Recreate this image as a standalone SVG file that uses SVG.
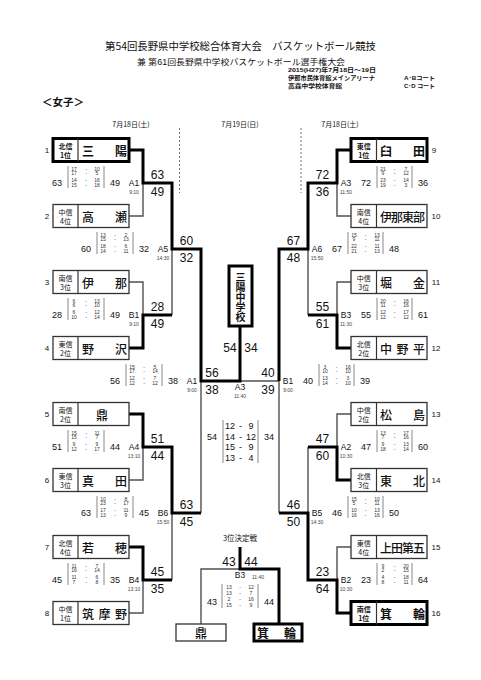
<svg xmlns="http://www.w3.org/2000/svg" width="481" height="680" viewBox="0 0 481 680">
<style>
text{font-family:"Liberation Sans","Noto Sans CJK JP",sans-serif;fill:#111;dominant-baseline:central}
.jp{font-family:"Noto Sans CJK JP",sans-serif}
.t{fill:none;stroke:#505050;stroke-width:1.4}
.k{fill:none;stroke:#000;stroke-width:3}
.bx{fill:#fff;stroke:#333;stroke-width:1.3}
.bk{fill:#fff;stroke:#000;stroke-width:3}
.dv{stroke:#333;stroke-width:1.2}
.dash{stroke:#777;stroke-width:1;stroke-dasharray:2 2}
.lb{font-family:"Noto Sans CJK JP",sans-serif;font-size:7px;text-anchor:middle}
.nm{font-family:"Noto Sans CJK JP",sans-serif;font-size:12px;font-weight:500}
.b{font-weight:bold}
.no{font-size:8px;text-anchor:middle}
.ls{font-size:12px;text-anchor:middle}
.ds{font-size:9px;text-anchor:middle}
.q{font-size:5px;text-anchor:middle;fill:#333}
.id{font-size:8.5px;text-anchor:middle}
.tm{font-size:5px;text-anchor:middle;fill:#444}
.bar{stroke:#888;stroke-width:1}
.sm{font-size:6px;font-weight:bold}
</style>

<g id="header">
<text class="jp" x="240.5" y="45" font-size="10.5" text-anchor="middle" textLength="271" lengthAdjust="spacingAndGlyphs">第54回長野県中学校総合体育大会　バスケットボール競技</text>
<text x="241" y="61.5" font-size="8.5" text-anchor="middle" textLength="208" lengthAdjust="spacingAndGlyphs">兼 第61回長野県中学校バスケットボール選手権大会</text>
<text class="sm" x="288" y="70.3" textLength="88" lengthAdjust="spacingAndGlyphs">2015(H27)年7月18日～19日</text>
<text class="sm" x="288" y="78.3" textLength="87" lengthAdjust="spacingAndGlyphs">伊那市民体育館メインアリーナ</text>
<text class="sm" x="404" y="78.3" textLength="31" lengthAdjust="spacingAndGlyphs">A･Bコート</text>
<text class="sm" x="288" y="86.3" textLength="54" lengthAdjust="spacingAndGlyphs">高森中学校体育館</text>
<text class="sm" x="404" y="86.3" textLength="31" lengthAdjust="spacingAndGlyphs">C･D コート</text>
<text class="jp" x="42" y="101" font-size="10.5" font-weight="bold">＜女子＞</text>
<text class="jp" x="131" y="124" font-size="7" text-anchor="middle">7月18日(土)</text>
<text class="jp" x="240" y="124" font-size="7" text-anchor="middle">7月19日(日)</text>
<text class="jp" x="340" y="124" font-size="7" text-anchor="middle">7月18日(土)</text>
</g>

<g id="connectors">
<line class="dash" x1="179.5" y1="128" x2="179.5" y2="193"/>
<line class="dash" x1="301" y1="128" x2="301" y2="193"/>
<path class="t" d="M129,216H143V183 M129,282H143V315 M129,480H143V447 M129,613H143V580 M172,315V249 M172,580V513 M201,513V381"/>
<path class="t" d="M351,216H337V183 M351,282H337V315 M351,414H337V447 M351,547H337V580 M308,315V249 M308,447V513 M279,513V381 M279,381H240"/>
<path class="t" d="M201,624V569H240"/>
<path class="k" d="M129,150H143V183H172V249H201V381H240V326"/>
<path class="k" d="M129,348H143V315H172"/>
<path class="k" d="M129,414H143V447H172V513H201"/>
<path class="k" d="M129,547H143V580H172"/>
<path class="k" d="M351,150H337V183H308V249H279V381"/>
<path class="k" d="M351,348H337V315H308"/>
<path class="k" d="M351,480H337V447H308"/>
<path class="k" d="M351,613H337V580H308V513H279"/>
<path class="k" d="M279,624V569H240V547"/>
</g>

<!-- Left teams -->
<g id="team1"><rect class="bk" x="53" y="138.5" width="76" height="23"/><line class="dv" x1="78" y1="138.5" x2="78" y2="161.5"/><text class="lb b" x="65.5" y="145.5">北信</text><text class="lb b" x="65.5" y="154.5">1位</text><text class="nm b" x="82 115" y="150">三陽</text><text class="no" x="47" y="150">1</text></g>
<g id="team2"><rect class="bx" x="53" y="204.5" width="76" height="23"/><line class="dv" x1="78" y1="204.5" x2="78" y2="227.5"/><text class="lb" x="65.5" y="211.5">中信</text><text class="lb" x="65.5" y="220.5">4位</text><text class="nm" x="82 115" y="216">高瀬</text><text class="no" x="47" y="216">2</text></g>
<g id="team3"><rect class="bx" x="53" y="270.5" width="76" height="23"/><line class="dv" x1="78" y1="270.5" x2="78" y2="293.5"/><text class="lb" x="65.5" y="277.5">南信</text><text class="lb" x="65.5" y="286.5">3位</text><text class="nm" x="82 115" y="282">伊那</text><text class="no" x="47" y="282">3</text></g>
<g id="team4"><rect class="bx" x="53" y="336.5" width="76" height="23"/><line class="dv" x1="78" y1="336.5" x2="78" y2="359.5"/><text class="lb" x="65.5" y="343.5">東信</text><text class="lb" x="65.5" y="352.5">2位</text><text class="nm" x="82 115" y="348">野沢</text><text class="no" x="47" y="348">4</text></g>
<g id="team5"><rect class="bx" x="53" y="402.5" width="76" height="23"/><line class="dv" x1="78" y1="402.5" x2="78" y2="425.5"/><text class="lb" x="65.5" y="409.5">南信</text><text class="lb" x="65.5" y="418.5">2位</text><text class="nm" x="102" y="414" text-anchor="middle">鼎</text><text class="no" x="47" y="414">5</text></g>
<g id="team6"><rect class="bx" x="53" y="468.5" width="76" height="23"/><line class="dv" x1="78" y1="468.5" x2="78" y2="491.5"/><text class="lb" x="65.5" y="475.5">東信</text><text class="lb" x="65.5" y="484.5">3位</text><text class="nm" x="82 115" y="480">真田</text><text class="no" x="47" y="480">6</text></g>
<g id="team7"><rect class="bx" x="53" y="535.5" width="76" height="23"/><line class="dv" x1="78" y1="535.5" x2="78" y2="558.5"/><text class="lb" x="65.5" y="542.5">北信</text><text class="lb" x="65.5" y="551.5">4位</text><text class="nm" x="82 115" y="547">若穂</text><text class="no" x="47" y="547">7</text></g>
<g id="team8"><rect class="bx" x="53" y="601.5" width="76" height="23"/><line class="dv" x1="78" y1="601.5" x2="78" y2="624.5"/><text class="lb" x="65.5" y="608.5">中信</text><text class="lb" x="65.5" y="617.5">1位</text><text class="nm" x="82 98.5 115" y="613">筑摩野</text><text class="no" x="47" y="613">8</text></g>

<!-- Right teams -->
<g id="team9"><rect class="bk" x="351" y="138.5" width="76" height="23"/><line class="dv" x1="376.5" y1="138.5" x2="376.5" y2="161.5"/><text class="lb b" x="363.75" y="145.5">東信</text><text class="lb b" x="363.75" y="154.5">1位</text><text class="nm b" x="380 413" y="150">臼田</text><text class="no" x="434" y="150">9</text></g>
<g id="team10"><rect class="bx" x="351" y="204.5" width="76" height="23"/><line class="dv" x1="376.5" y1="204.5" x2="376.5" y2="227.5"/><text class="lb" x="363.75" y="211.5">南信</text><text class="lb" x="363.75" y="220.5">4位</text><text class="nm" x="380 391 402 413" y="216">伊那東部</text><text class="no" x="436" y="216">10</text></g>
<g id="team11"><rect class="bx" x="351" y="270.5" width="76" height="23"/><line class="dv" x1="376.5" y1="270.5" x2="376.5" y2="293.5"/><text class="lb" x="363.75" y="277.5">中信</text><text class="lb" x="363.75" y="286.5">3位</text><text class="nm" x="380 413" y="282">堀金</text><text class="no" x="436" y="282">11</text></g>
<g id="team12"><rect class="bx" x="351" y="336.5" width="76" height="23"/><line class="dv" x1="376.5" y1="336.5" x2="376.5" y2="359.5"/><text class="lb" x="363.75" y="343.5">北信</text><text class="lb" x="363.75" y="352.5">2位</text><text class="nm" x="380 396.5 413" y="348">中野平</text><text class="no" x="436" y="348">12</text></g>
<g id="team13"><rect class="bx" x="351" y="402.5" width="76" height="23"/><line class="dv" x1="376.5" y1="402.5" x2="376.5" y2="425.5"/><text class="lb" x="363.75" y="409.5">中信</text><text class="lb" x="363.75" y="418.5">2位</text><text class="nm" x="380 413" y="414">松島</text><text class="no" x="436" y="414">13</text></g>
<g id="team14"><rect class="bx" x="351" y="468.5" width="76" height="23"/><line class="dv" x1="376.5" y1="468.5" x2="376.5" y2="491.5"/><text class="lb" x="363.75" y="475.5">北信</text><text class="lb" x="363.75" y="484.5">3位</text><text class="nm" x="380 413" y="480">東北</text><text class="no" x="436" y="480">14</text></g>
<g id="team15"><rect class="bx" x="351" y="535.5" width="76" height="23"/><line class="dv" x1="376.5" y1="535.5" x2="376.5" y2="558.5"/><text class="lb" x="363.75" y="542.5">東信</text><text class="lb" x="363.75" y="551.5">4位</text><text class="nm" x="380 391 402 413" y="547">上田第五</text><text class="no" x="436" y="547">15</text></g>
<g id="team16"><rect class="bk" x="351" y="601.5" width="76" height="23"/><line class="dv" x1="376.5" y1="601.5" x2="376.5" y2="624.5"/><text class="lb b" x="363.75" y="608.5">南信</text><text class="lb b" x="363.75" y="617.5">1位</text><text class="nm b" x="380 413" y="613">箕輪</text><text class="no" x="436" y="613">16</text></g>

<!-- Champion -->
<g id="champion"><rect class="bk" x="229" y="266" width="23" height="60"/><text class="jp b" font-size="10" text-anchor="middle" x="240.5 240.5 240.5 240.5 240.5" y="276 286 296 306 316">三陽中学校</text></g>

<!-- Left matches -->
<g id="mA1" transform="translate(143,183)">
<text class="ls" x="14.5" y="-8.5">63</text><text class="ls" x="14.5" y="8.5">49</text>
<text class="ds" x="-86" y="0">63</text><text class="ds" x="-28" y="0">49</text>
<line class="bar" x1="-75" y1="-17" x2="-75" y2="5"/><line class="bar" x1="-39" y1="-17" x2="-39" y2="5"/>
<text class="q" y="-14.5"><tspan x="-69">17</tspan><tspan x="-57">-</tspan><tspan x="-46">10</tspan></text>
<text class="q" y="-10"><tspan x="-69">17</tspan><tspan x="-57">-</tspan><tspan x="-46">5</tspan></text>
<text class="q" y="-3.5"><tspan x="-69">14</tspan><tspan x="-57">-</tspan><tspan x="-46">16</tspan></text>
<text class="q" y="1.5"><tspan x="-69">15</tspan><tspan x="-57">-</tspan><tspan x="-46">18</tspan></text>
<text class="id" x="-9" y="0">A1</text><text class="tm" x="-9" y="8.5">9:10</text>
</g>
<g id="mB1" transform="translate(143,315)">
<text class="ls" x="14.5" y="-8.5">28</text><text class="ls" x="14.5" y="8.5">49</text>
<text class="ds" x="-86" y="0">28</text><text class="ds" x="-28" y="0">49</text>
<line class="bar" x1="-75" y1="-17" x2="-75" y2="5"/><line class="bar" x1="-39" y1="-17" x2="-39" y2="5"/>
<text class="q" y="-14.5"><tspan x="-69">6</tspan><tspan x="-57">-</tspan><tspan x="-46">13</tspan></text>
<text class="q" y="-10"><tspan x="-69">6</tspan><tspan x="-57">-</tspan><tspan x="-46">10</tspan></text>
<text class="q" y="-3.5"><tspan x="-69">6</tspan><tspan x="-57">-</tspan><tspan x="-46">12</tspan></text>
<text class="q" y="1.5"><tspan x="-69">10</tspan><tspan x="-57">-</tspan><tspan x="-46">14</tspan></text>
<text class="id" x="-9" y="0">B1</text><text class="tm" x="-9" y="8.5">9:10</text>
</g>
<g id="mA4" transform="translate(143,447)">
<text class="ls" x="14.5" y="-8.5">51</text><text class="ls" x="14.5" y="8.5">44</text>
<text class="ds" x="-86" y="0">51</text><text class="ds" x="-28" y="0">44</text>
<line class="bar" x1="-75" y1="-17" x2="-75" y2="5"/><line class="bar" x1="-39" y1="-17" x2="-39" y2="5"/>
<text class="q" y="-14.5"><tspan x="-69">15</tspan><tspan x="-57">-</tspan><tspan x="-46">11</tspan></text>
<text class="q" y="-10"><tspan x="-69">15</tspan><tspan x="-57">-</tspan><tspan x="-46">7</tspan></text>
<text class="q" y="-3.5"><tspan x="-69">9</tspan><tspan x="-57">-</tspan><tspan x="-46">9</tspan></text>
<text class="q" y="1.5"><tspan x="-69">12</tspan><tspan x="-57">-</tspan><tspan x="-46">17</tspan></text>
<text class="id" x="-9" y="0">A4</text><text class="tm" x="-9" y="8.5">13:10</text>
</g>
<g id="mB4" transform="translate(143,580)">
<text class="ls" x="14.5" y="-8.5">45</text><text class="ls" x="14.5" y="8.5">35</text>
<text class="ds" x="-86" y="0">45</text><text class="ds" x="-28" y="0">35</text>
<line class="bar" x1="-75" y1="-17" x2="-75" y2="5"/><line class="bar" x1="-39" y1="-17" x2="-39" y2="5"/>
<text class="q" y="-14.5"><tspan x="-69">11</tspan><tspan x="-57">-</tspan><tspan x="-46">7</tspan></text>
<text class="q" y="-10"><tspan x="-69">16</tspan><tspan x="-57">-</tspan><tspan x="-46">14</tspan></text>
<text class="q" y="-3.5"><tspan x="-69">11</tspan><tspan x="-57">-</tspan><tspan x="-46">6</tspan></text>
<text class="q" y="1.5"><tspan x="-69">7</tspan><tspan x="-57">-</tspan><tspan x="-46">8</tspan></text>
<text class="id" x="-9" y="0">B4</text><text class="tm" x="-9" y="8.5">13:10</text>
</g>
<g id="mA5" transform="translate(172,249)">
<text class="ls" x="14.5" y="-8.5">60</text><text class="ls" x="14.5" y="8.5">32</text>
<text class="ds" x="-86" y="0">60</text><text class="ds" x="-28" y="0">32</text>
<line class="bar" x1="-75" y1="-17" x2="-75" y2="5"/><line class="bar" x1="-39" y1="-17" x2="-39" y2="5"/>
<text class="q" y="-14.5"><tspan x="-69">13</tspan><tspan x="-57">-</tspan><tspan x="-46">2</tspan></text>
<text class="q" y="-10"><tspan x="-69">15</tspan><tspan x="-57">-</tspan><tspan x="-46">13</tspan></text>
<text class="q" y="-3.5"><tspan x="-69">18</tspan><tspan x="-57">-</tspan><tspan x="-46">6</tspan></text>
<text class="q" y="1.5"><tspan x="-69">14</tspan><tspan x="-57">-</tspan><tspan x="-46">11</tspan></text>
<text class="id" x="-9" y="0">A5</text><text class="tm" x="-9" y="8.5">14:30</text>
</g>
<g id="mB6" transform="translate(172,513)">
<text class="ls" x="14.5" y="-8.5">63</text><text class="ls" x="14.5" y="8.5">45</text>
<text class="ds" x="-86" y="0">63</text><text class="ds" x="-28" y="0">45</text>
<line class="bar" x1="-75" y1="-17" x2="-75" y2="5"/><line class="bar" x1="-39" y1="-17" x2="-39" y2="5"/>
<text class="q" y="-14.5"><tspan x="-69">10</tspan><tspan x="-57">-</tspan><tspan x="-46">8</tspan></text>
<text class="q" y="-10"><tspan x="-69">23</tspan><tspan x="-57">-</tspan><tspan x="-46">17</tspan></text>
<text class="q" y="-3.5"><tspan x="-69">17</tspan><tspan x="-57">-</tspan><tspan x="-46">11</tspan></text>
<text class="q" y="1.5"><tspan x="-69">13</tspan><tspan x="-57">-</tspan><tspan x="-46">9</tspan></text>
<text class="id" x="-9" y="0">B6</text><text class="tm" x="-9" y="8.5">15:50</text>
</g>
<g id="mSA1" transform="translate(201,381)">
<text class="ls" x="11" y="-8.5">56</text><text class="ls" x="11" y="8.5">38</text>
<text class="ds" x="-86" y="0">56</text><text class="ds" x="-28" y="0">38</text>
<line class="bar" x1="-75" y1="-17" x2="-75" y2="5"/><line class="bar" x1="-39" y1="-17" x2="-39" y2="5"/>
<text class="q" y="-14.5"><tspan x="-69">15</tspan><tspan x="-57">-</tspan><tspan x="-46">5</tspan></text>
<text class="q" y="-10"><tspan x="-69">17</tspan><tspan x="-57">-</tspan><tspan x="-46">14</tspan></text>
<text class="q" y="-3.5"><tspan x="-69">12</tspan><tspan x="-57">-</tspan><tspan x="-46">7</tspan></text>
<text class="q" y="1.5"><tspan x="-69">12</tspan><tspan x="-57">-</tspan><tspan x="-46">12</tspan></text>
<text class="id" x="-9" y="0">A1</text><text class="tm" x="-9" y="8.5">9:00</text>
</g>

<!-- Right matches -->
<g id="mA3" transform="translate(337,183)">
<text class="ls" x="-14.5" y="-8.5">72</text><text class="ls" x="-14.5" y="8.5">36</text>
<text class="ds" x="29" y="0">72</text><text class="ds" x="86" y="0">36</text>
<line class="bar" x1="40" y1="-17" x2="40" y2="5"/><line class="bar" x1="75" y1="-17" x2="75" y2="5"/>
<text class="q" y="-14.5"><tspan x="46">21</tspan><tspan x="57.5">-</tspan><tspan x="69">7</tspan></text>
<text class="q" y="-10"><tspan x="46">9</tspan><tspan x="57.5">-</tspan><tspan x="69">12</tspan></text>
<text class="q" y="-3.5"><tspan x="46">23</tspan><tspan x="57.5">-</tspan><tspan x="69">14</tspan></text>
<text class="q" y="1.5"><tspan x="46">19</tspan><tspan x="57.5">-</tspan><tspan x="69">3</tspan></text>
<text class="id" x="9" y="0">A3</text><text class="tm" x="9" y="8.5">11:50</text>
</g>
<g id="mB3" transform="translate(337,315)">
<text class="ls" x="-14.5" y="-8.5">55</text><text class="ls" x="-14.5" y="8.5">61</text>
<text class="ds" x="29" y="0">55</text><text class="ds" x="86" y="0">61</text>
<line class="bar" x1="40" y1="-17" x2="40" y2="5"/><line class="bar" x1="75" y1="-17" x2="75" y2="5"/>
<text class="q" y="-14.5"><tspan x="46">20</tspan><tspan x="57.5">-</tspan><tspan x="69">16</tspan></text>
<text class="q" y="-10"><tspan x="46">11</tspan><tspan x="57.5">-</tspan><tspan x="69">16</tspan></text>
<text class="q" y="-3.5"><tspan x="46">12</tspan><tspan x="57.5">-</tspan><tspan x="69">17</tspan></text>
<text class="q" y="1.5"><tspan x="46">12</tspan><tspan x="57.5">-</tspan><tspan x="69">12</tspan></text>
<text class="id" x="9" y="0">B3</text><text class="tm" x="9" y="8.5">11:30</text>
</g>
<g id="mA2" transform="translate(337,447)">
<text class="ls" x="-14.5" y="-8.5">47</text><text class="ls" x="-14.5" y="8.5">60</text>
<text class="ds" x="29" y="0">47</text><text class="ds" x="86" y="0">60</text>
<line class="bar" x1="40" y1="-17" x2="40" y2="5"/><line class="bar" x1="75" y1="-17" x2="75" y2="5"/>
<text class="q" y="-14.5"><tspan x="46">13</tspan><tspan x="57.5">-</tspan><tspan x="69">17</tspan></text>
<text class="q" y="-10"><tspan x="46">7</tspan><tspan x="57.5">-</tspan><tspan x="69">16</tspan></text>
<text class="q" y="-3.5"><tspan x="46">9</tspan><tspan x="57.5">-</tspan><tspan x="69">13</tspan></text>
<text class="q" y="1.5"><tspan x="46">18</tspan><tspan x="57.5">-</tspan><tspan x="69">14</tspan></text>
<text class="id" x="9" y="0">A2</text><text class="tm" x="9" y="8.5">10:30</text>
</g>
<g id="mB2" transform="translate(337,580)">
<text class="ls" x="-14.5" y="-8.5">23</text><text class="ls" x="-14.5" y="8.5">64</text>
<text class="ds" x="29" y="0">23</text><text class="ds" x="86" y="0">64</text>
<line class="bar" x1="40" y1="-17" x2="40" y2="5"/><line class="bar" x1="75" y1="-17" x2="75" y2="5"/>
<text class="q" y="-14.5"><tspan x="46">9</tspan><tspan x="57.5">-</tspan><tspan x="69">20</tspan></text>
<text class="q" y="-10"><tspan x="46">2</tspan><tspan x="57.5">-</tspan><tspan x="69">15</tspan></text>
<text class="q" y="-3.5"><tspan x="46">4</tspan><tspan x="57.5">-</tspan><tspan x="69">18</tspan></text>
<text class="q" y="1.5"><tspan x="46">8</tspan><tspan x="57.5">-</tspan><tspan x="69">11</tspan></text>
<text class="id" x="9" y="0">B2</text><text class="tm" x="9" y="8.5">10:30</text>
</g>
<g id="mA6" transform="translate(308,249)">
<text class="ls" x="-14.5" y="-8.5">67</text><text class="ls" x="-14.5" y="8.5">48</text>
<text class="ds" x="29" y="0">67</text><text class="ds" x="86" y="0">48</text>
<line class="bar" x1="40" y1="-17" x2="40" y2="5"/><line class="bar" x1="75" y1="-17" x2="75" y2="5"/>
<text class="q" y="-14.5"><tspan x="46">15</tspan><tspan x="57.5">-</tspan><tspan x="69">13</tspan></text>
<text class="q" y="-10"><tspan x="46">9</tspan><tspan x="57.5">-</tspan><tspan x="69">11</tspan></text>
<text class="q" y="-3.5"><tspan x="46">22</tspan><tspan x="57.5">-</tspan><tspan x="69">11</tspan></text>
<text class="q" y="1.5"><tspan x="46">21</tspan><tspan x="57.5">-</tspan><tspan x="69">13</tspan></text>
<text class="id" x="9" y="0">A6</text><text class="tm" x="9" y="8.5">15:50</text>
</g>
<g id="mB5" transform="translate(308,513)">
<text class="ls" x="-14.5" y="-8.5">46</text><text class="ls" x="-14.5" y="8.5">50</text>
<text class="ds" x="29" y="0">46</text><text class="ds" x="86" y="0">50</text>
<line class="bar" x1="40" y1="-17" x2="40" y2="5"/><line class="bar" x1="75" y1="-17" x2="75" y2="5"/>
<text class="q" y="-14.5"><tspan x="46">15</tspan><tspan x="57.5">-</tspan><tspan x="69">10</tspan></text>
<text class="q" y="-10"><tspan x="46">5</tspan><tspan x="57.5">-</tspan><tspan x="69">11</tspan></text>
<text class="q" y="-3.5"><tspan x="46">10</tspan><tspan x="57.5">-</tspan><tspan x="69">13</tspan></text>
<text class="q" y="1.5"><tspan x="46">16</tspan><tspan x="57.5">-</tspan><tspan x="69">16</tspan></text>
<text class="id" x="9" y="0">B5</text><text class="tm" x="9" y="8.5">14:30</text>
</g>
<g id="mSB1" transform="translate(279,381)">
<text class="ls" x="-11" y="-8.5">40</text><text class="ls" x="-11" y="8.5">39</text>
<text class="ds" x="29" y="0">40</text><text class="ds" x="86" y="0">39</text>
<line class="bar" x1="40" y1="-17" x2="40" y2="5"/><line class="bar" x1="75" y1="-17" x2="75" y2="5"/>
<text class="q" y="-14.5"><tspan x="46">3</tspan><tspan x="57.5">-</tspan><tspan x="69">16</tspan></text>
<text class="q" y="-10"><tspan x="46">10</tspan><tspan x="57.5">-</tspan><tspan x="69">10</tspan></text>
<text class="q" y="-3.5"><tspan x="46">13</tspan><tspan x="57.5">-</tspan><tspan x="69">3</tspan></text>
<text class="q" y="1.5"><tspan x="46">14</tspan><tspan x="57.5">-</tspan><tspan x="69">10</tspan></text>
<text class="id" x="9" y="0">B1</text><text class="tm" x="9" y="8.5">9:00</text>
</g>

<!-- Final -->
<g id="final">
<text class="ls" x="230" y="348" font-size="11">54</text><text class="ls" x="251" y="348" font-size="11">34</text>
<text class="id" x="240" y="387">A3</text><text class="tm" x="240" y="395.5">11:40</text>
<line class="bar" x1="223" y1="420" x2="223" y2="463"/><line class="bar" x1="258" y1="420" x2="258" y2="463"/>
<text class="ds" x="212" y="437" font-size="10">54</text><text class="ds" x="269" y="437" font-size="10">34</text>
<text class="ds" y="426"><tspan x="230">12</tspan><tspan x="240.5">-</tspan><tspan x="251">9</tspan></text>
<text class="ds" y="436.5"><tspan x="230">14</tspan><tspan x="240.5">-</tspan><tspan x="251">12</tspan></text>
<text class="ds" y="447"><tspan x="230">15</tspan><tspan x="240.5">-</tspan><tspan x="251">9</tspan></text>
<text class="ds" y="457.5"><tspan x="230">13</tspan><tspan x="240.5">-</tspan><tspan x="251">4</tspan></text>
</g>

<!-- Third place -->
<g id="third">
<text class="jp" x="240" y="537" font-size="7.5" text-anchor="middle">3位決定戦</text>
<text class="ls" x="229" y="562" font-size="11">43</text><text class="ls" x="251" y="562" font-size="11">44</text>
<text class="id" x="240" y="575">B3</text><text class="tm" x="258" y="576.5">11:40</text>
<line class="bar" x1="222" y1="584" x2="222" y2="608"/><line class="bar" x1="258" y1="584" x2="258" y2="608"/>
<text class="ds" x="212" y="602">43</text><text class="ds" x="269" y="602">44</text>
<text class="q" font-size="5.5" y="587"><tspan x="229">13</tspan><tspan x="240">-</tspan><tspan x="251">12</tspan></text>
<text class="q" font-size="5.5" y="593"><tspan x="229">13</tspan><tspan x="240">-</tspan><tspan x="251">7</tspan></text>
<text class="q" font-size="5.5" y="599"><tspan x="229">2</tspan><tspan x="240">-</tspan><tspan x="251">16</tspan></text>
<text class="q" font-size="5.5" y="604.5"><tspan x="229">15</tspan><tspan x="240">-</tspan><tspan x="251">9</tspan></text>
</g>
<g id="third-kanae"><rect class="bx" x="176" y="624" width="50" height="17"/><text class="nm" x="201" y="632.5" text-anchor="middle">鼎</text></g>
<g id="third-minowa"><rect class="bk" x="254" y="624" width="48" height="17"/><text class="nm b" x="257 284" y="632.5">箕輪</text></g>
</svg>
